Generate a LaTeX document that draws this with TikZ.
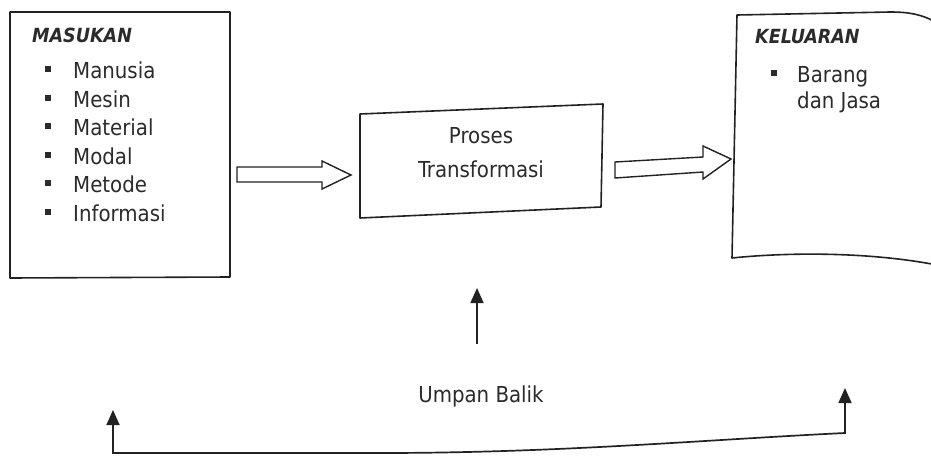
\documentclass[tikz,border=0pt]{standalone}
\usepackage{fontspec}
\setmainfont{DejaVu Sans Condensed}
\usetikzlibrary{arrows.meta}
\definecolor{ink}{HTML}{222222}
\definecolor{txtc}{HTML}{2B2B2B}
\tikzset{
  line/.style={draw=ink, line width=1.6pt, line join=round},
  hollow/.style={draw=ink, line width=1.4pt, fill=white, line join=miter},
  txt/.style={inner sep=0pt, anchor=base west, text=txtc, font=\fontsize{22}{26}\selectfont},
  ctxt/.style={txt, anchor=base},
  headtxt/.style={txt, font=\fontsize{19.5}{23}\selectfont\bfseries\itshape},
  bul/.style={fill=txtc, minimum size=5.5pt, inner sep=0pt, rectangle},
  arr/.style={draw=ink, line width=1.7pt, -{Triangle[length=15pt,width=13pt]}},
  arr2/.style={draw=ink, line width=1.7pt, {Triangle[length=15pt,width=13pt]}-{Triangle[length=15pt,width=13pt]}},
}
\begin{document}
\begin{tikzpicture}[x=1pt,y=-1pt]
\useasboundingbox (0,0) rectangle (931,455);
\clip (0,0) rectangle (931,455);
% MASUKAN box
\draw[line] (10,12) -- (230,12) -- (230,277) -- (10,278) -- cycle;
\node[headtxt] (masukan) at (32,42) {MASUKAN};
\foreach \n/\t/\y in {m1/Manusia/78, m2/Mesin/107, m3/Material/135, m4/Modal/164, m5/Metode/192, m6/Informasi/221}{
  \node[bul] (b\n) at (48,\y-9) {};
  \node[txt] (\n) at (73,\y) {\t};
}
% left hollow arrow
\draw[hollow] (237,167) -- (322,167) -- (322,161) -- (351,175) -- (322,189) -- (322,182) -- (237,182) -- cycle;
% process box
\draw[line] (360,114) -- (603,104) -- (601,207) -- (360,218) -- cycle;
\node[ctxt] (p1) at (481,143) {Proses};
\node[ctxt] (p2) at (481,177) {Transformasi};
% right hollow arrow
\draw[hollow] (615,162) -- (703,157) -- (703,146) -- (731,159) -- (703,179) -- (703,172) -- (615,178) -- cycle;
% KELUARAN shape
\draw[line] (937,23) .. controls (922,14) and (908,12) .. (890,12) -- (737,15) -- (732,258) .. controls (790,252) and (870,252) .. (937,265);
\node[headtxt] (keluaran) at (755,43) {KELUARAN};
\node[bul] (bk) at (774,73) {};
\node[txt] (k1) at (797,82) {Barang};
\node[txt] (k2) at (797,108) {dan Jasa};
% feedback
\coordinate (upS) at (477,344);
\coordinate (upE) at (477,288);
\draw[arr] (upS) -- (upE);
\node[ctxt] (umpan) at (481,402) {Umpan Balik};
\coordinate (fbL) at (113,410);
\coordinate (fbLB) at (113,453);
\coordinate (fbM) at (380,453);
\coordinate (fbRB) at (845,433);
\coordinate (fbR) at (845,388);
\draw[arr2, line join=miter] (fbL) -- (fbLB) -- (fbM) .. controls (560,453) and (700,440) .. (fbRB) -- (fbR);
\end{tikzpicture}
\end{document}
